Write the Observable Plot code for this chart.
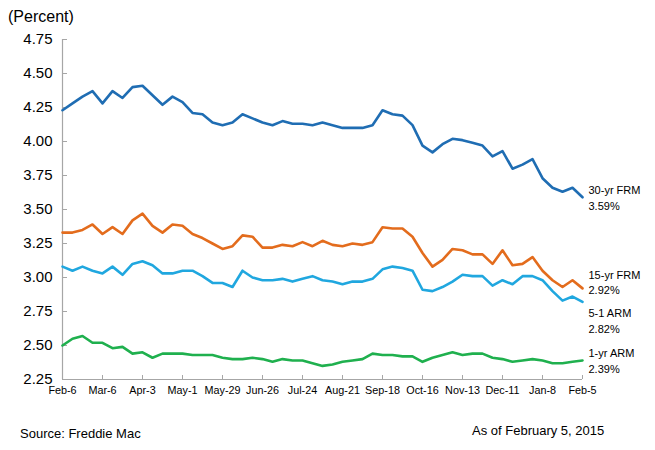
<!DOCTYPE html>
<html><head><meta charset="utf-8">
<script src="https://cdn.jsdelivr.net/npm/d3@7"></script>
<script src="https://cdn.jsdelivr.net/npm/@observablehq/plot@0.6"></script>
<style>
body{margin:0;background:#fff;font-family:"Liberation Sans",Arial,sans-serif;}
#wrap{position:relative;width:655px;height:450px;}
.t{position:absolute;white-space:nowrap;color:#000;line-height:1;}
</style></head><body>
<div id="wrap">
<div class="t" style="left:8px;top:9px;font-size:16px;">(Percent)</div>
<div class="t" style="left:20px;top:427px;font-size:13px;">Source: Freddie Mac</div>
<div class="t" style="left:472px;top:424px;font-size:13px;">As of February 5, 2015</div>
</div>
<script>
// Weekly rates, Feb 6 2014 – Feb 5 2015 (53 weeks)
const tickLabels = ["Feb-6","Mar-6","Apr-3","May-1","May-29","Jun-26","Jul-24","Aug-21","Sep-18","Oct-16","Nov-13","Dec-11","Jan-8","Feb-5"];
const yTicks = [2.25,2.50,2.75,3.00,3.25,3.50,3.75,4.00,4.25,4.50,4.75];

const frm30 = [4.23,4.28,4.33,4.37,4.28,4.37,4.32,4.40,4.41,4.34,4.27,4.33,4.29,4.21,4.20,4.14,4.12,4.14,4.20,4.17,4.14,4.12,4.15,4.13,4.13,4.12,4.14,4.12,4.10,4.10,4.10,4.12,4.23,4.20,4.19,4.12,3.97,3.92,3.98,4.02,4.01,3.99,3.97,3.89,3.93,3.80,3.83,3.87,3.73,3.66,3.63,3.66,3.59];
const frm15 = [3.33,3.33,3.35,3.39,3.32,3.37,3.32,3.42,3.47,3.38,3.33,3.39,3.38,3.32,3.29,3.25,3.21,3.23,3.31,3.30,3.22,3.22,3.24,3.23,3.26,3.23,3.27,3.24,3.23,3.25,3.24,3.26,3.37,3.36,3.36,3.30,3.18,3.08,3.13,3.21,3.20,3.17,3.17,3.10,3.20,3.09,3.10,3.15,3.05,2.98,2.93,2.98,2.92];
const arm51 = [3.08,3.05,3.08,3.05,3.03,3.08,3.02,3.10,3.12,3.09,3.03,3.03,3.05,3.05,3.01,2.96,2.96,2.93,3.05,3.00,2.98,2.98,2.99,2.97,2.99,3.01,2.98,2.97,2.95,2.97,2.97,2.99,3.06,3.08,3.07,3.05,2.91,2.90,2.93,2.97,3.02,3.01,3.01,2.94,2.98,2.95,3.01,3.01,2.98,2.90,2.83,2.86,2.82];
const arm1 = [2.50,2.55,2.57,2.52,2.52,2.48,2.49,2.44,2.45,2.41,2.44,2.44,2.44,2.43,2.43,2.43,2.41,2.40,2.40,2.41,2.40,2.38,2.40,2.39,2.39,2.37,2.35,2.36,2.38,2.39,2.40,2.44,2.43,2.43,2.42,2.42,2.38,2.41,2.43,2.45,2.43,2.44,2.44,2.41,2.40,2.38,2.39,2.40,2.39,2.37,2.37,2.38,2.39];

const seriesNames = ["30-yr FRM","15-yr FRM","5-1 ARM","1-yr ARM"];
const seriesValues = [frm30, frm15, arm51, arm1];
const seriesColors = ["#1f6db3","#e36c1d","#20a7df","#1fb04e"];
const labelDy = [0, -7, 18, -1];

const xTicks = tickLabels.map((_, i) => i * 4);
const axisColor = "#a6a6a6";

const lineMarks = seriesValues.map((vals, s) =>
  Plot.line(vals, {x: (d, i) => i, y: d => d, stroke: seriesColors[s], strokeWidth: 2.6, strokeLinejoin: "round", curve: "linear"})
);
const labelMarks = seriesValues.map((vals, s) =>
  Plot.text([vals[vals.length - 1]], {
    x: vals.length - 1, y: d => d,
    text: d => `${seriesNames[s]}\n${d.toFixed(2)}%`,
    dx: 6, dy: labelDy[s], textAnchor: "start", lineAnchor: "middle",
    lineHeight: 1.45, fontSize: 11, fill: "#000"
  })
);

const chart = Plot.plot({
  width: 655, height: 450,
  marginLeft: 62, marginRight: 73, marginTop: 39, marginBottom: 71,
  style: {fontFamily: "'Liberation Sans', Arial, sans-serif", background: "transparent", overflow: "visible"},
  x: {domain: [0, 52]},
  y: {domain: [2.25, 4.75]},
  marks: [
    Plot.axisY({ticks: yTicks, tickSize: -5, stroke: axisColor, text: null, label: null}),
    Plot.axisY({ticks: yTicks, tickSize: 0, tickPadding: 10, tickFormat: d => d.toFixed(2), fontSize: 15, fill: "#000", label: null}),
    Plot.axisX({ticks: xTicks, tickSize: -4, stroke: axisColor, text: null, label: null}),
    Plot.axisX({ticks: xTicks, tickSize: 0, tickPadding: 7, tickFormat: i => tickLabels[i / 4], fontSize: 10.8, fill: "#000", label: null}),
    Plot.ruleX([0], {stroke: axisColor, strokeWidth: 1.2}),
    Plot.ruleY([2.25], {stroke: axisColor, strokeWidth: 1.2}),
    ...lineMarks,
    ...labelMarks
  ]
});
chart.style.position = "absolute";
chart.style.left = "0";
chart.style.top = "0";
document.getElementById("wrap").appendChild(chart);
</script>
</body></html>
